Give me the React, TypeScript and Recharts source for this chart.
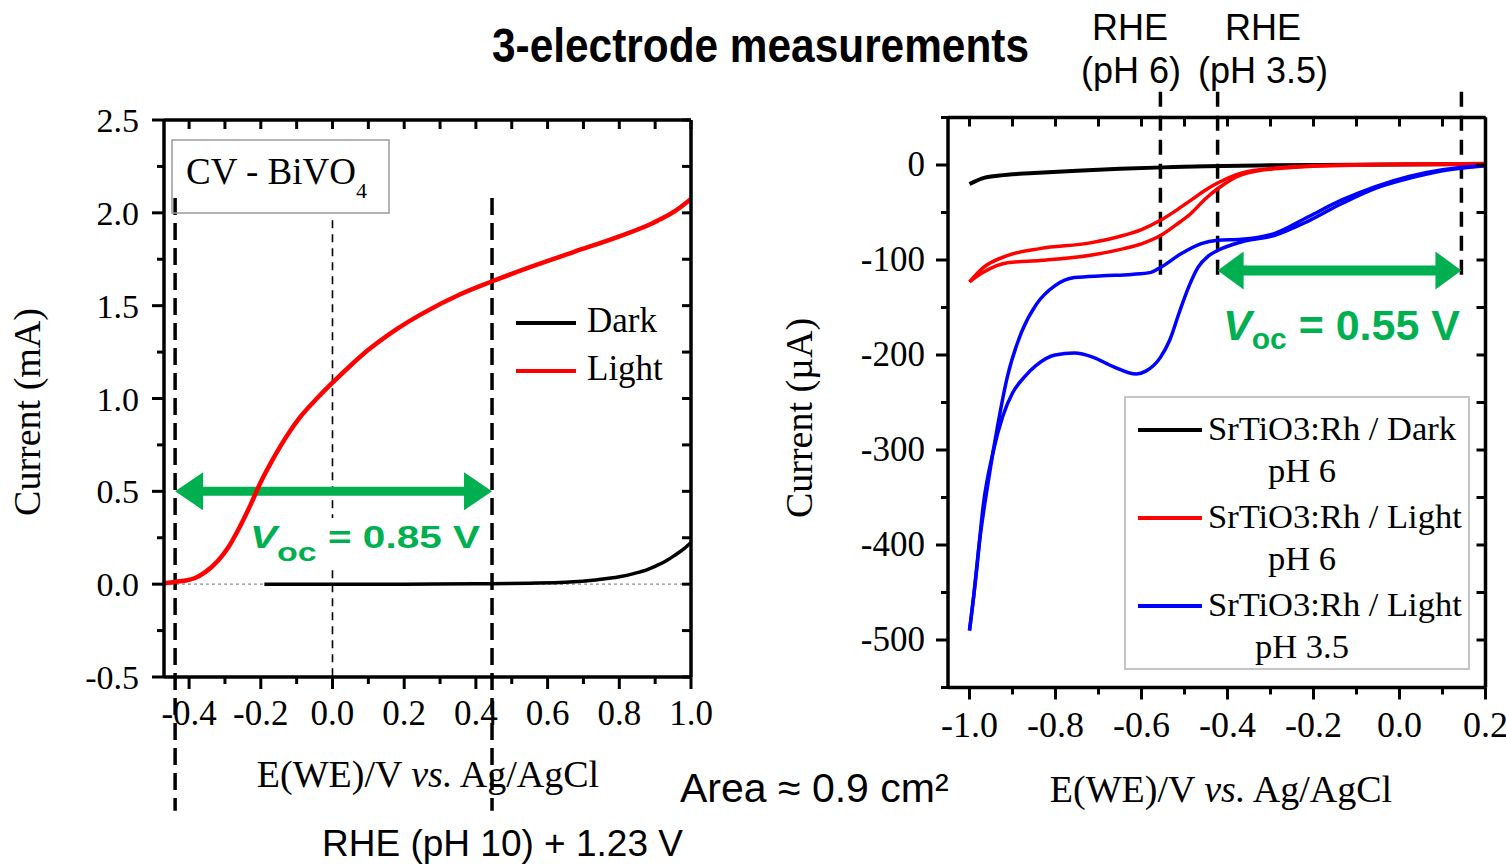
import React from 'react';
import { LineChart, Line, XAxis, YAxis, ReferenceLine, Legend } from 'recharts';

const SERIF = "'Liberation Serif', 'Times New Roman', Times, serif";
const SANS = "'Liberation Sans', Arial, Helvetica, sans-serif";
const GREEN = '#00b050';

// ---- left panel: CV of BiVO4, current in mA vs E in V (Ag/AgCl) ----
const bivLightE = [-0.47, -0.44, -0.41, -0.385, -0.355, -0.32, -0.29, -0.265, -0.228, -0.2, -0.17, -0.143, -0.092, -0.041, 0, 0.049, 0.1, 0.176, 0.253, 0.355, 0.444, 0.547, 0.674, 0.802, 0.891, 0.955, 1.0];
const bivLightI = [0.005, 0.012, 0.02, 0.032, 0.065, 0.125, 0.2, 0.285, 0.43, 0.55, 0.66, 0.75, 0.895, 1.005, 1.085, 1.175, 1.262, 1.37, 1.46, 1.56, 1.63, 1.705, 1.79, 1.875, 1.943, 2.009, 2.075];
const bivDarkE = [-0.19, 0, 0.2, 0.4, 0.55, 0.65, 0.74, 0.8, 0.84, 0.88, 0.904, 0.93, 0.955, 0.98, 1.0];
const bivDarkI = [0, 0, 0, 0.002, 0.005, 0.01, 0.024, 0.04, 0.057, 0.08, 0.1, 0.125, 0.156, 0.19, 0.225];
const bivXTicks = [-0.4, -0.3, -0.2, -0.1, 0, 0.1, 0.2, 0.3, 0.4, 0.5, 0.6, 0.7, 0.8, 0.9, 1.0];
const bivXLabels = [-0.4, -0.2, 0, 0.2, 0.4, 0.6, 0.8, 1.0];
const bivYTicks = [-0.5, -0.25, 0, 0.25, 0.5, 0.75, 1, 1.25, 1.5, 1.75, 2, 2.25, 2.5];
const bivYLabels = [-0.5, 0, 0.5, 1, 1.5, 2, 2.5];
const bivOnsets = [-0.439, 0.445]; // dashed markers, Voc = 0.85 V between them
const bivLegendNames = ['Dark', 'Light'];
const bivLegendColors = ['#000000', '#ff0000'];

// ---- right panel: CV of SrTiO3:Rh, current in µA vs E in V (Ag/AgCl) ----
const stoDarkE = [-1.0, -0.97, -0.93, -0.85, -0.75, -0.65, -0.55, -0.45, -0.3, -0.1, 0.2];
const stoDarkI = [-20, -14, -11, -8.5, -6, -4, -2.5, -1.2, -0.3, 0.3, 1];
const stoRedUpE = [-1.0, -0.968, -0.912, -0.836, -0.719, -0.641, -0.6, -0.555, -0.52, -0.485, -0.45, -0.423, -0.368, -0.29, -0.134, 0.2];
const stoRedUpI = [-123, -108, -95.4, -88, -82, -74, -68, -58, -48, -37, -26, -19, -8.5, -3.2, 0, 1.5];
const stoRedLowE = [-1.0, -0.968, -0.912, -0.836, -0.719, -0.641, -0.6, -0.555, -0.52, -0.485, -0.45, -0.423, -0.368, -0.29, -0.134, 0.2];
const stoRedLowI = [-123, -113, -103, -100.5, -95, -88, -83, -74, -63, -51, -35, -25, -10.3, -4, -0.5, 1];
const stoBlueUpE = [-1.0, -0.99, -0.979, -0.957, -0.934, -0.912, -0.879, -0.845, -0.801, -0.756, -0.69, -0.623, -0.578, -0.555, -0.508, -0.461, -0.423, -0.368, -0.29, -0.212, -0.134, -0.056, 0.022, 0.1, 0.2];
const stoBlueUpI = [-490, -453, -405, -335, -273, -223, -176, -147, -127, -118.5, -116.6, -115.2, -113, -107.6, -93.5, -82.8, -79.3, -78.2, -72, -54.5, -36.8, -22.7, -12, -5, -0.5];
const stoBlueLowE = [-1.0, -0.984, -0.968, -0.945, -0.923, -0.9, -0.87, -0.845, -0.801, -0.756, -0.712, -0.667, -0.612, -0.59, -0.556, -0.534, -0.512, -0.489, -0.469, -0.445, -0.423, -0.368, -0.29, -0.212, -0.134, -0.056, 0.022, 0.1, 0.2];
const stoBlueLowI = [-490, -429, -358, -302, -265, -240, -222, -211, -200, -198, -202.5, -212, -220, -217, -202.5, -184, -155, -127, -108, -96, -90, -81, -74, -59, -40.5, -24.5, -14, -6, -0.7];
const stoXTicks = [-1.0, -0.9, -0.8, -0.7, -0.6, -0.5, -0.4, -0.3, -0.2, -0.1, 0, 0.1, 0.2];
const stoXLabels = [-1.0, -0.8, -0.6, -0.4, -0.2, 0, 0.2];
const stoYTicks = [-550, -500, -450, -400, -350, -300, -250, -200, -150, -100, -50, 0, 50];
const stoYLabels = [-500, -400, -300, -200, -100, 0];
const stoRhe = [-0.556, -0.423, 0.144]; // RHE pH 6, RHE pH 3.5, onset
const stoLegendNames = ['SrTiO3:Rh / Dark', 'SrTiO3:Rh / Light', 'SrTiO3:Rh / Light'];
const stoLegendSubs = ['pH 6', 'pH 6', 'pH 3.5'];
const stoLegendColors = ['#000000', '#ff0000', '#0000ff'];

const zip = (e: number[], i: number[]) => e.map((x, k) => ({ e: x, i: i[k] }));

type Side = 'bottom' | 'left' | 'top' | 'right';

// draws major/minor tick marks; labels only on the major ones
const makeTick = (side: Side, labels: number[], digits: number, fontSize: number, base: number, gap: number) => (p: any) => {
  const v = Number(p.payload.value);
  const major = labels.some((l) => Math.abs(l - v) < 1e-6);
  const len = labels.length === 0 ? 9 : major ? 12 : 7;
  const { x, y } = p;
  let mark;
  let label = null;
  if (side === 'bottom') {
    mark = <line x1={x} y1={y} x2={x} y2={y + len} />;
    if (major) label = <text x={x} y={y + base} textAnchor="middle">{v.toFixed(digits)}</text>;
  } else if (side === 'left') {
    mark = <line x1={x} y1={y} x2={x - len} y2={y} />;
    if (major) label = <text x={x - gap} y={y + base} textAnchor="end">{v.toFixed(digits)}</text>;
  } else if (side === 'top') {
    mark = <line x1={x} y1={y} x2={x} y2={y + len} />;
  } else {
    mark = <line x1={x} y1={y} x2={x - len} y2={y} />;
  }
  return (
    <g>
      <g stroke="#000" strokeWidth={3}>{mark}</g>
      {label && <g fill="#000" stroke="none" fontFamily={SERIF} fontSize={fontSize}>{label}</g>}
    </g>
  );
};

const arrowShape = (head: number, half: number, shaft: number) => (p: any) => {
  const a = Math.min(p.x1, p.x2);
  const b = Math.max(p.x1, p.x2);
  const y = p.y1;
  const pts = [
    [a, y], [a + head, y - half], [a + head, y - shaft], [b - head, y - shaft], [b - head, y - half],
    [b, y], [b - head, y + half], [b - head, y + shaft], [a + head, y + shaft], [a + head, y + half],
  ];
  return <polygon points={pts.map((q) => q.join(',')).join(' ')} fill={GREEN} />;
};

const axisLine = { stroke: '#000', strokeWidth: 3.5 };

const BivLegend = () => (
  <svg width={170} height={100}>
    {bivLegendNames.map((n, k) => (
      <g key={n}>
        <line x1={6} x2={66} y1={23 + 48 * k} y2={23 + 48 * k} stroke={bivLegendColors[k]} strokeWidth={4} />
        <text x={77} y={32 + 48 * k} fontFamily={SERIF} fontSize={35} fill="#000">{n}</text>
      </g>
    ))}
  </svg>
);

const StoLegend = () => (
  <svg width={346} height={274}>
    <rect x={1} y={1} width={344} height={272} fill="none" stroke="#c4c4c4" strokeWidth={2} />
    {stoLegendNames.map((n, k) => {
      const ly = 34 + 88 * k;
      return (
        <g key={k} fontFamily={SERIF} fontSize={34.5} fill="#000">
          <line x1={14} x2={78} y1={ly} y2={ly} stroke={stoLegendColors[k]} strokeWidth={4} />
          <text x={84} y={ly + 10}>{n}</text>
          <text x={178} y={ly + 52} textAnchor="middle">{stoLegendSubs[k]}</text>
        </g>
      );
    })}
  </svg>
);

const BivPanel = () => (
  <LineChart width={760} height={866} margin={{ top: 119, right: 68, bottom: 129, left: 84 }}>
    <XAxis dataKey="e" type="number" domain={[-0.47, 1.0]} allowDataOverflow ticks={bivXTicks} interval={0}
      height={60} tickSize={0} tickMargin={0} tickLine={false} axisLine={axisLine}
      tick={makeTick('bottom', bivXLabels, 1, 35, 48, 0)} />
    <XAxis xAxisId="top" orientation="top" dataKey="e" type="number" domain={[-0.47, 1.0]} allowDataOverflow
      ticks={bivXTicks} interval={0} height={1} tickSize={0} tickMargin={0} tickLine={false} axisLine={axisLine}
      tick={makeTick('top', [], 1, 35, 0, 0)} />
    <YAxis type="number" domain={[-0.5, 2.5]} allowDataOverflow ticks={bivYTicks} interval={0} width={80}
      tickSize={0} tickMargin={0} tickLine={false} axisLine={axisLine}
      tick={makeTick('left', bivYLabels, 1, 34, 12, 25)} />
    <YAxis yAxisId="right" orientation="right" type="number" domain={[-0.5, 2.5]} allowDataOverflow
      ticks={bivYTicks} interval={0} width={1} tickSize={0} tickMargin={0} tickLine={false} axisLine={axisLine}
      tick={makeTick('right', [], 1, 34, 0, 0)} />
    <ReferenceLine y={0} stroke="#8c8c8c" strokeWidth={1.2} strokeDasharray="3 3" />
    <ReferenceLine segment={[{ x: 0, y: 1.96 }, { x: 0, y: -0.5 }]} stroke="#000" strokeWidth={1.6}
      strokeDasharray="8 6" ifOverflow="visible" />
    {bivOnsets.map((x) => (
      <ReferenceLine key={x} segment={[{ x, y: 2.08 }, { x, y: -1.22 }]} stroke="#000" strokeWidth={3.5}
        strokeDasharray="17 8" ifOverflow="visible" />
    ))}
    <ReferenceLine segment={[{ x: bivOnsets[0], y: 0.5 }, { x: bivOnsets[1], y: 0.5 }]}
      ifOverflow="visible" shape={arrowShape(28, 19, 4.5)} />
    <Line data={zip(bivDarkE, bivDarkI)} dataKey="i" name="Dark" type="monotone" stroke="#000" strokeWidth={3.5}
      dot={false} isAnimationActive={false} />
    <Line data={zip(bivLightE, bivLightI)} dataKey="i" name="Light" type="monotone" stroke="#ff0000"
      strokeWidth={4.5} dot={false} isAnimationActive={false} />
    <Legend layout="vertical" align="center" verticalAlign="middle" content={<BivLegend />}
      wrapperStyle={{ left: 510, top: 300, width: 170, height: 100 }} />
  </LineChart>
);

const StoPanel = () => (
  <LineChart width={746} height={866} margin={{ top: 116.5, right: 19.5, bottom: 118.5, left: 108 }}>
    <XAxis dataKey="e" type="number" domain={[-1.05, 0.2]} allowDataOverflow ticks={stoXTicks} interval={0}
      height={60} tickSize={0} tickMargin={0} tickLine={false} axisLine={axisLine}
      tick={makeTick('bottom', stoXLabels, 1, 36, 49, 0)} />
    <XAxis xAxisId="top" orientation="top" dataKey="e" type="number" domain={[-1.05, 0.2]} allowDataOverflow
      ticks={stoXTicks} interval={0} height={1} tickSize={0} tickMargin={0} tickLine={false} axisLine={axisLine}
      tick={makeTick('top', [], 1, 36, 0, 0)} />
    <YAxis type="number" domain={[-550, 50]} allowDataOverflow ticks={stoYTicks} interval={0} width={80}
      tickSize={0} tickMargin={0} tickLine={false} axisLine={axisLine}
      tick={makeTick('left', stoYLabels, 0, 35, 11, 23)} />
    <YAxis yAxisId="right" orientation="right" type="number" domain={[-550, 50]} allowDataOverflow
      ticks={stoYTicks} interval={0} width={1} tickSize={0} tickMargin={0} tickLine={false} axisLine={axisLine}
      tick={makeTick('right', [], 0, 35, 0, 0)} />
    {stoRhe.map((x) => (
      <ReferenceLine key={x} segment={[{ x, y: 77 }, { x, y: -125 }]} stroke="#000" strokeWidth={3.5}
        strokeDasharray="15 9" ifOverflow="visible" />
    ))}
    <ReferenceLine segment={[{ x: stoRhe[1], y: -111 }, { x: stoRhe[2], y: -111 }]}
      ifOverflow="visible" shape={arrowShape(26, 19, 5)} />
    <Line data={zip(stoDarkE, stoDarkI)} dataKey="i" name="dark" type="monotone" stroke="#000" strokeWidth={4}
      dot={false} isAnimationActive={false} />
    <Line data={zip(stoRedUpE, stoRedUpI)} dataKey="i" name="red-up" type="monotone" stroke="#ff0000"
      strokeWidth={3.5} dot={false} isAnimationActive={false} />
    <Line data={zip(stoRedLowE, stoRedLowI)} dataKey="i" name="red-low" type="monotone" stroke="#ff0000"
      strokeWidth={3.5} dot={false} isAnimationActive={false} />
    <Line data={zip(stoBlueUpE, stoBlueUpI)} dataKey="i" name="blue-up" type="monotone" stroke="#0000ff"
      strokeWidth={3.5} dot={false} isAnimationActive={false} />
    <Line data={zip(stoBlueLowE, stoBlueLowI)} dataKey="i" name="blue-low" type="monotone" stroke="#0000ff"
      strokeWidth={3.5} dot={false} isAnimationActive={false} />
    <Legend layout="vertical" align="center" verticalAlign="middle" content={<StoLegend />}
      wrapperStyle={{ left: 364, top: 396, width: 346, height: 274 }} />
  </LineChart>
);

export default function App() {
  return (
    <div style={{ position: 'absolute', left: 0, top: 0, width: 1506, height: 866, background: '#fff', overflow: 'hidden' }}>
      <div style={{ position: 'absolute', left: 0, top: 0 }}>
        <BivPanel />
      </div>
      <div style={{ position: 'absolute', left: 760, top: 0 }}>
        <StoPanel />
      </div>
      <svg width={1506} height={866} style={{ position: 'absolute', left: 0, top: 0, pointerEvents: 'none' }}>
        {/* title and RHE markers */}
        <text x={492} y={62} fontFamily={SANS} fontSize={48} fontWeight="bold" textLength={537}
          lengthAdjust="spacingAndGlyphs">3-electrode measurements</text>
        <g fontFamily={SANS} fontSize={36} textAnchor="middle">
          <text x={1130} y={40}>RHE</text>
          <text x={1131} y={83}>(pH 6)</text>
          <text x={1263} y={40}>RHE</text>
          <text x={1263} y={83}>(pH 3.5)</text>
        </g>
        <text x={680} y={802} fontFamily={SANS} fontSize={41}>Area ≈ 0.9 cm²</text>
        <text x={322} y={856} fontFamily={SANS} fontSize={37}>RHE (pH 10) + 1.23 V</text>

        {/* axis titles */}
        <g fontFamily={SERIF} fontSize={38} textAnchor="middle">
          <text transform="translate(40 412) rotate(-90)">Current (mA)</text>
          <text transform="translate(812 418) rotate(-90)">Current (µA)</text>
          <text x={428} y={787}>{'E(WE)/V '}<tspan fontStyle="italic">vs.</tspan>{' Ag/AgCl'}</text>
          <text x={1221} y={802}>{'E(WE)/V '}<tspan fontStyle="italic">vs.</tspan>{' Ag/AgCl'}</text>
        </g>

        {/* sample label */}
        <rect x={172} y={140} width={217} height={73} fill="none" stroke="#9a9a9a" strokeWidth={1.5} />
        <text x={186} y={184} fontFamily={SERIF} fontSize={37}>
          {'CV - BiVO'}<tspan fontSize={22} dy={14}>4</tspan>
        </text>

        {/* open-circuit voltages */}
        <rect x={247} y={518} width={237} height={52} fill="#fff" />
        <text x={250} y={548} fontFamily={SANS} fontSize={31} fontWeight="bold" fill={GREEN} textLength={230}
          lengthAdjust="spacingAndGlyphs">
          <tspan fontStyle="italic">V</tspan><tspan fontSize={26} dy={13}>oc</tspan><tspan dy={-13}>{' = 0.85 V'}</tspan>
        </text>
        <text x={1223} y={340} fontFamily={SANS} fontSize={43} fontWeight="bold" fill={GREEN}>
          <tspan fontStyle="italic">V</tspan><tspan fontSize={30} dy={9}>oc</tspan><tspan dy={-9}>{' = 0.55 V'}</tspan>
        </text>
      </svg>
    </div>
  );
}
